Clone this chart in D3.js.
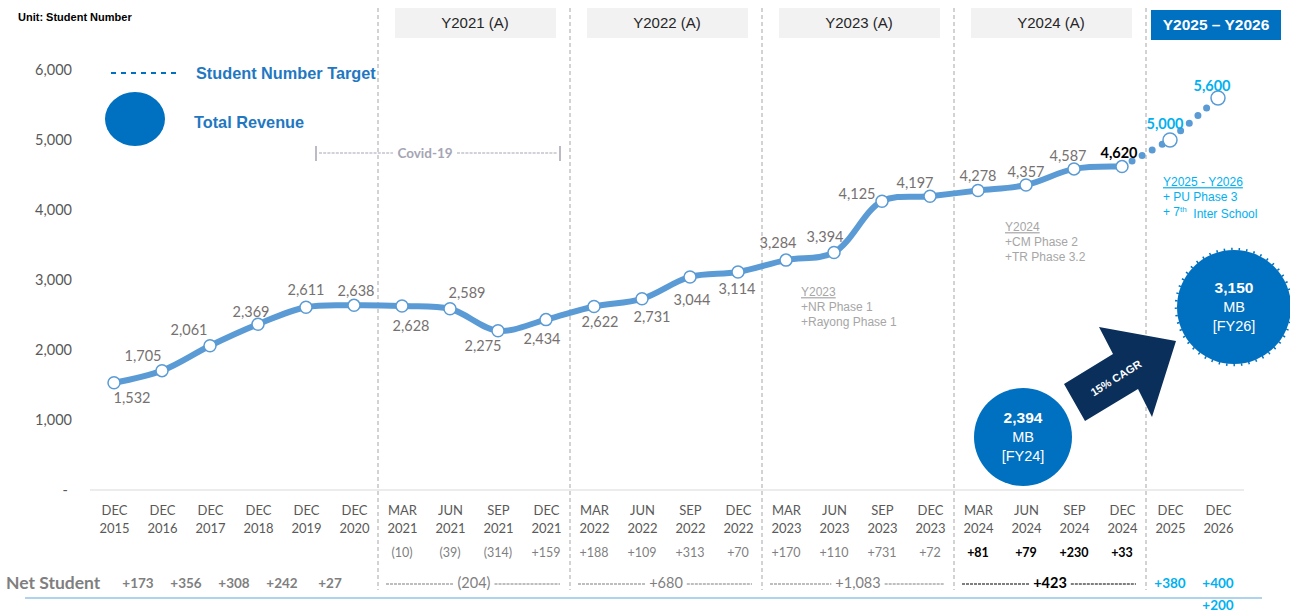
<!DOCTYPE html>
<html><head><meta charset="utf-8">
<script src="https://cdn.jsdelivr.net/npm/d3@7"></script>
<style>
html,body{margin:0;padding:0;background:#fff;}
svg{display:block;}
</style></head>
<body>
<script>
// ---------------- DATA ----------------
const months = ["DEC","DEC","DEC","DEC","DEC","DEC","MAR","JUN","SEP","DEC","MAR","JUN","SEP","DEC","MAR","JUN","SEP","DEC","MAR","JUN","SEP","DEC","DEC","DEC"];
const years  = ["2015","2016","2017","2018","2019","2020","2021","2021","2021","2021","2022","2022","2022","2022","2023","2023","2023","2023","2024","2024","2024","2024","2025","2026"];
const students = [1532,1705,2061,2369,2611,2638,2628,2589,2275,2434,2622,2731,3044,3114,3284,3394,4125,4197,4278,4357,4587,4620];
const targetCats = ["DEC 2024","DEC 2025","DEC 2026"];
const targets = [4620,5000,5600];
const yTicks = [0,1000,2000,3000,4000,5000,6000];
const quarterChange = ["(10)","(39)","(314)","+159","+188","+109","+313","+70","+170","+110","+731","+72","+81","+79","+230","+33"];
const yearlyNet = ["+173","+356","+308","+242","+27"];
const groupNet = ["(204)","+680","+1,083","+423"];
const targetNet = ["+380","+400","+200"];
const periods = ["Y2021 (A)","Y2022 (A)","Y2023 (A)","Y2024 (A)"];
const forecastPeriod = "Y2025 – Y2026";
const revenueValues = ["2,394","3,150"];
const revenueYears = ["[FY24]","[FY26]"];

// label offsets (styling, not data)
const labelOff = [[18,15],[-19,-15],[-21,-16],[-7,-12],[0,-17],[2,-14],[9,20],[17,-16],[-15,15],[-4,19],[6,15],[10,18],[2,23],[-1,17],[-8,-17],[-9,-15],[-25,-7],[-15,-13],[0,-15],[0,-13],[-6,-13],[-3,-14]];
const targetOff = [[0,0],[-5,-16],[-6,-12]];

// ---------------- SETUP ----------------
const W = 1290, H = 613;
const svg = d3.select("body").append("svg").attr("width",W).attr("height",H);
const cats = months.map((m,i)=>m+" "+years[i]);
const x = d3.scalePoint().domain(cats).range([90,1242]).padding(0.5);
const step = x.step();
const y = d3.scaleLinear().domain([0,6000]).range([490,70]);

const NUM = "Lato, 'Open Sans', sans-serif";
const ARIAL = "'Liberation Sans', Arial, sans-serif";
const LABEL_C = "#767171";

// Unit
svg.append("text").attr("x",18).attr("y",21).text("Unit: Student Number")
  .attr("font-family",ARIAL).attr("font-size",11).attr("font-weight","bold").attr("fill","#000");

// separators
const sepIdx = [5,9,13,17,21];
sepIdx.forEach(i=>{
  const sx = x(cats[i]) + step/2;
  svg.append("line").attr("x1",sx).attr("x2",sx).attr("y1",8).attr("y2",590)
    .attr("stroke","#a6a6a6").attr("stroke-width",1).attr("stroke-dasharray","4 3");
});

// period header boxes
periods.forEach((p,k)=>{
  const sx = x(cats[sepIdx[k]]) + step/2 + 17;
  svg.append("rect").attr("x",sx).attr("y",8).attr("width",161).attr("height",30).attr("fill","#f2f2f2");
  svg.append("text").attr("x",sx+80).attr("y",23).attr("dy","0.35em").attr("text-anchor","middle")
    .attr("font-family",ARIAL).attr("font-size",15).attr("fill","#262626").text(p);
});
{
  const sx = x(cats[21]) + step/2 + 5;
  svg.append("rect").attr("x",sx).attr("y",10).attr("width",130).attr("height",30).attr("fill","#0070c0");
  svg.append("text").attr("x",sx+65).attr("y",25).attr("dy","0.35em").attr("text-anchor","middle")
    .attr("font-family",ARIAL).attr("font-size",15.5).attr("font-weight","bold").attr("fill","#fff").text(forecastPeriod);
}

// y axis labels
const yAxis = d3.axisLeft(y).tickValues(yTicks).tickSize(0).tickPadding(0)
  .tickFormat(d=> d===0 ? "-" : d3.format(",")(d));
const yg = svg.append("g").attr("transform","translate(72,0)").call(yAxis);
yg.select(".domain").remove();
yg.selectAll("text").attr("font-family",NUM).attr("font-size",14.5).attr("fill","#595959")
  .attr("dx", d=> d===0 ? -4 : 0);

// baseline
svg.append("line").attr("x1",90).attr("x2",1244).attr("y1",y(0)).attr("y2",y(0))
  .attr("stroke","#d9d9d9").attr("stroke-width",1);

// x axis labels
const xAxis = d3.axisBottom(x).tickSize(0).tickFormat(()=>"");
const xg = svg.append("g").attr("transform",`translate(0,${y(0)})`).call(xAxis);
xg.select(".domain").remove();
xg.selectAll(".tick").each(function(d,i){
  const t = d3.select(this).select("text").text(null)
    .attr("font-family",NUM).attr("font-size",13).attr("fill","#595959").attr("y",0).attr("dy",null);
  t.append("tspan").attr("x",0).attr("y",25).text(months[i]);
  t.append("tspan").attr("x",0).attr("y",43).text(years[i]);
});

// legend
svg.append("line").attr("x1",111).attr("x2",178).attr("y1",73).attr("y2",73)
  .attr("stroke","#0070c0").attr("stroke-width",2).attr("stroke-dasharray","5 5");
svg.append("text").attr("x",196).attr("y",73).attr("dy","0.35em").text("Student Number Target")
  .attr("font-family",ARIAL).attr("font-size",16.3).attr("font-weight","bold").attr("fill","#1f78c1");
svg.append("ellipse").attr("cx",135).attr("cy",119).attr("rx",30).attr("ry",27).attr("fill","#0070c0");
svg.append("text").attr("x",194).attr("y",122).attr("dy","0.35em").text("Total Revenue")
  .attr("font-family",ARIAL).attr("font-size",16.3).attr("font-weight","bold").attr("fill","#1f78c1");

// covid bracket
{
  const cg = svg.append("g").attr("stroke","#a5a5b4");
  const yc = 153, x0 = 316, x1 = 560;
  cg.append("line").attr("x1",x0).attr("x2",x0).attr("y1",yc-7).attr("y2",yc+8).attr("stroke-width",1.5);
  cg.append("line").attr("x1",x1).attr("x2",x1).attr("y1",yc-7).attr("y2",yc+8).attr("stroke-width",1.5);
  cg.append("line").attr("x1",x0+3).attr("x2",393).attr("y1",yc).attr("y2",yc).attr("stroke-width",1).attr("stroke-dasharray","3 1.2");
  cg.append("line").attr("x1",457).attr("x2",x1-3).attr("y1",yc).attr("y2",yc).attr("stroke-width",1).attr("stroke-dasharray","3 1.2");
  svg.append("text").attr("x",425).attr("y",yc).attr("dy","0.35em").attr("text-anchor","middle")
    .attr("font-family",NUM).attr("font-size",13.5).attr("font-weight","bold").attr("fill","#a5a5b4").text("Covid-19");
}

// main line
const pts = students.map((v,i)=>[x(cats[i]), y(v)]);
svg.append("path").attr("d", d3.line().curve(d3.curveCatmullRom.alpha(0.5))(pts))
  .attr("fill","none").attr("stroke","#5b9bd5").attr("stroke-width",6).attr("stroke-linecap","round");

// target dotted line
const tpts = targets.map((v,i)=>[x(targetCats[i]), y(v)]);
svg.append("path").attr("d", d3.line()(tpts))
  .attr("fill","none").attr("stroke","#5b9bd5").attr("stroke-width",7)
  .attr("stroke-linecap","round").attr("stroke-dasharray","0 11.5");

// markers
svg.selectAll(".m").data(pts).join("circle").attr("cx",d=>d[0]).attr("cy",d=>d[1]).attr("r",6)
  .attr("fill","#fff").attr("stroke","#5b9bd5").attr("stroke-width",1.5);
svg.selectAll(".tm").data(tpts.slice(1)).join("circle").attr("cx",d=>d[0]).attr("cy",d=>d[1]).attr("r",7)
  .attr("fill","#fff").attr("stroke","#5b9bd5").attr("stroke-width",1.5);

// data labels
students.forEach((v,i)=>{
  const last = i===students.length-1;
  svg.append("text").attr("x",pts[i][0]+labelOff[i][0]).attr("y",pts[i][1]+labelOff[i][1]).attr("dy","0.35em")
    .attr("text-anchor","middle").attr("font-family",NUM).attr("font-size",14.5)
    .attr("font-weight", last ? "bold" : "normal").attr("fill", last ? "#000" : LABEL_C)
    .text(d3.format(",")(v));
});
targets.slice(1).forEach((v,k)=>{
  const i = k+1;
  svg.append("text").attr("x",tpts[i][0]+targetOff[i][0]).attr("y",tpts[i][1]+targetOff[i][1]).attr("dy","0.35em")
    .attr("text-anchor","middle").attr("font-family",NUM).attr("font-size",14.5).attr("font-weight","bold")
    .attr("fill","#00b0f0").text(d3.format(",")(v));
});

// annotations
function note(x0,y0,lines,color){
  const g = svg.append("g").attr("font-family",ARIAL).attr("font-size",12).attr("fill",color);
  lines.forEach((l,i)=>{
    const t = g.append("text").attr("x",x0).attr("y",y0+i*15).attr("dy","0.35em");
    if(i===0) t.attr("text-decoration","underline");
    if(typeof l === "string") t.text(l); else l(t);
  });
}
note(801,292,["Y2023","+NR Phase 1","+Rayong Phase 1"],"#a6a6a6");
note(1005,227,["Y2024","+CM Phase 2","+TR Phase 3.2"],"#a6a6a6");
note(1163,182,["Y2025 - Y2026","+ PU Phase 3", t=>{ t.append("tspan").text("+ 7");
  t.append("tspan").attr("font-size",8).attr("dy","-0.5em").text("th");
  t.append("tspan").attr("dy","0.5em").text("  Inter School"); t.attr("xml:space","preserve"); }],"#00b0f0");

// arrow
svg.append("polygon")
  .attr("points",[[1064,384],[1113,354],[1099,327],[1176,341],[1152,417],[1138,389],[1085,421]].map(p=>p.join(",")).join(" "))
  .attr("fill","#0b2f5b");
svg.append("text").attr("transform","translate(1116,378) rotate(-32)").attr("text-anchor","middle").attr("dy","0.35em")
  .attr("font-family",ARIAL).attr("font-size",11).attr("font-weight","bold").attr("fill","#fff").text("15% CAGR");

// revenue circles
const rev = [{cx:1023,cy:437,r:49},{cx:1234,cy:307,r:57}];
rev.forEach((c,k)=>{
  svg.append("circle").attr("cx",c.cx).attr("cy",c.cy).attr("r",c.r).attr("fill","#0070c0");
  if(k===1) svg.append("circle").attr("cx",c.cx).attr("cy",c.cy).attr("r",c.r+1).attr("fill","none")
    .attr("stroke","#0070c0").attr("stroke-width",2.5).attr("stroke-dasharray","1.5 6");
  const g = svg.append("g").attr("font-family",ARIAL).attr("fill","#fff").attr("text-anchor","middle");
  g.append("text").attr("x",c.cx).attr("y",c.cy-19).attr("dy","0.35em").attr("font-size",15.5).attr("font-weight","bold").text(revenueValues[k]);
  g.append("text").attr("x",c.cx).attr("y",c.cy).attr("dy","0.35em").attr("font-size",14.5).text("MB");
  g.append("text").attr("x",c.cx).attr("y",c.cy+19).attr("dy","0.35em").attr("font-size",14.5).text(revenueYears[k]);
});

// quarterly change row
quarterChange.forEach((q,k)=>{
  const i = k+6, bold = i>=18;
  svg.append("text").attr("x",x(cats[i])).attr("y",553).attr("dy","0.35em").attr("text-anchor","middle")
    .attr("font-family",NUM).attr("font-size",12.5).attr("font-weight", bold?"bold":"normal")
    .attr("fill", bold?"#000":"#7f7f7f").text(q);
});

// Net student row
const rowY = 583;
svg.append("text").attr("x",6).attr("y",rowY).attr("dy","0.35em").attr("font-family",NUM)
  .attr("font-size",17.5).attr("font-weight","bold").attr("fill","#7f7f7f").text("Net Student");
yearlyNet.forEach((v,k)=>{
  svg.append("text").attr("x",(x(cats[k])+x(cats[k+1]))/2).attr("y",rowY).attr("dy","0.35em").attr("text-anchor","middle")
    .attr("font-family",NUM).attr("font-size",13.5).attr("font-weight","bold").attr("fill","#7f7f7f").text(v);
});
groupNet.forEach((v,k)=>{
  const a = sepIdx[k]+1, b = sepIdx[k+1];
  const x0 = x(cats[a])-step/2+8, x1 = x(cats[b])+step/2-10;
  const cx = (x(cats[a])+x(cats[b]))/2;
  const isLast = k===groupNet.length-1;
  const col = isLast ? "#000" : "#7f7f7f";
  const t = svg.append("text").attr("x",cx).attr("y",rowY).attr("dy","0.35em").attr("text-anchor","middle")
    .attr("font-family",NUM).attr("font-size",14.5).attr("font-weight", isLast?"bold":"normal").attr("fill",col).text(v);
  const tw = t.node().getComputedTextLength();
  [[x0,cx-tw/2-4],[cx+tw/2+4,x1]].forEach(s=>{
    svg.append("line").attr("x1",s[0]).attr("x2",s[1]).attr("y1",rowY+1).attr("y2",rowY+1)
      .attr("stroke",col).attr("stroke-width",1.1).attr("stroke-dasharray","3 1");
  });
});
[[22,0],[23,0],[23,1]].forEach((p,k)=>{
  svg.append("text").attr("x",x(cats[p[0]])).attr("y",rowY+p[1]*22).attr("dy","0.35em").attr("text-anchor","middle")
    .attr("font-family",NUM).attr("font-size",13.5).attr("font-weight","bold").attr("fill","#00b0f0").text(targetNet[k]);
});
svg.append("line").attr("x1",25).attr("x2",1262).attr("y1",598).attr("y2",598).attr("stroke","#5fa8dc").attr("stroke-width",1.2);
</script>
</body></html>
